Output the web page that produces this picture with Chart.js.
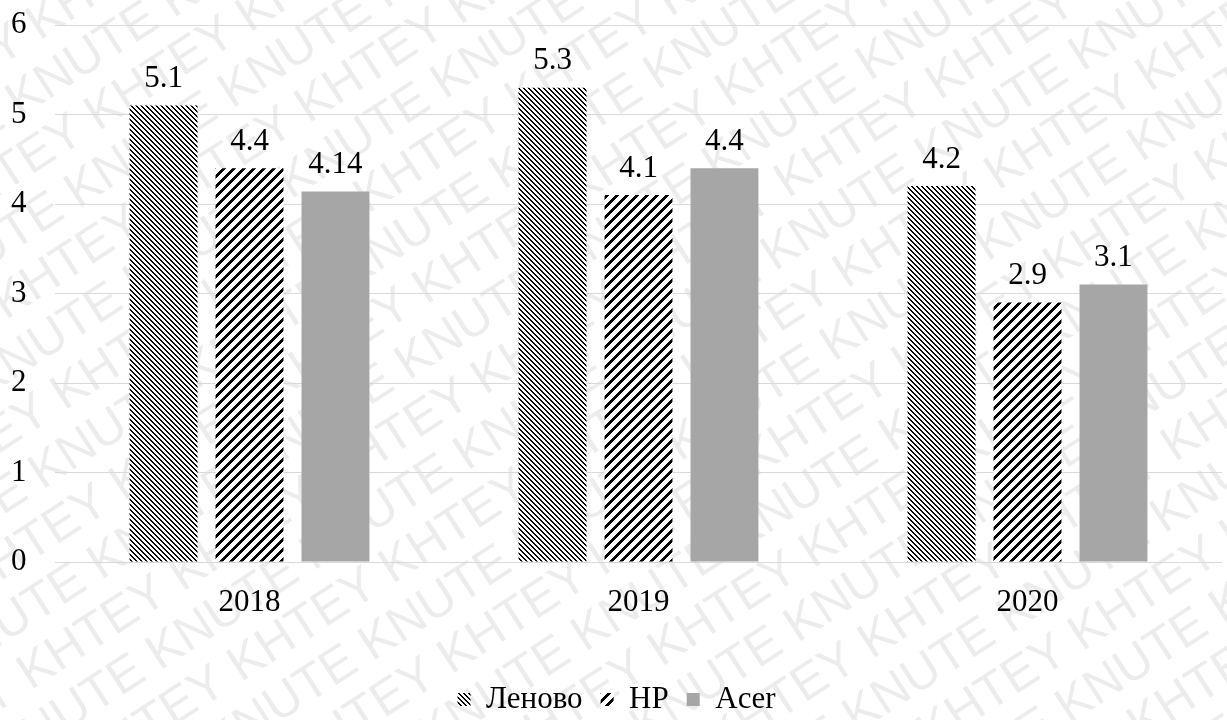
<!DOCTYPE html>
<html>
<head>
<meta charset="utf-8">
<script src="https://cdn.jsdelivr.net/npm/chart.js@4"></script>
<style>
  html, body { margin: 0; padding: 0; background: #fff; }
  #wrap { width: 1227px; height: 720px; }
</style>
</head>
<body>
<div id="wrap"><canvas id="chart" width="1227" height="720"></canvas></div>
<script>
// data
var YEARS = ['2018', '2019', '2020'];
var LENOVO = [5.1, 5.3, 4.2];
var HP = [4.4, 4.1, 2.9];
var ACER = [4.14, 4.4, 3.1];
var SERIES_NAMES = ['Леново', 'HP', 'Acer'];
var Y_MIN = 0, Y_MAX = 6, Y_STEP = 1;

var SERIF = '"Liberation Serif", "Times New Roman", serif';
var FONT_SIZE = 31;

/**
 * Pixel hatch pattern. dir '/' or '\\', period in px, w = black width.
 */
function makeHatch(dir, period, w) {
  var c = document.createElement('canvas');
  c.width = period;
  c.height = period;
  var g = c.getContext('2d');
  var img = g.createImageData(period, period);
  for (var y = 0; y < period; y++) {
    for (var x = 0; x < period; x++) {
      var k = dir === '/' ? (x + y) : (x - y + period * 4);
      var on = (k % period) < w;
      var i = (y * period + x) * 4;
      var v = on ? 0 : 255;
      img.data[i] = v; img.data[i + 1] = v; img.data[i + 2] = v; img.data[i + 3] = 255;
    }
  }
  g.putImageData(img, 0, 0);
  return g.createPattern(c, 'repeat');
}

// faint diagonal watermark behind the plot
var watermark = {
  id: 'watermark',
  beforeDraw: function (chart) {
    var ctx = chart.ctx;
    ctx.save();
    ctx.fillStyle = 'rgba(0,0,0,0.075)';
    ctx.font = '50px "Liberation Sans", Arial, sans-serif';
    ctx.textBaseline = 'middle';
    ctx.translate(chart.width / 2, chart.height / 2);
    ctx.rotate(-33 * Math.PI / 180);
    for (var r = -14; r <= 14; r++) {
      var word = r % 2 === 0 ? 'KNUTE ' : 'KHTEY ';
      var line = '';
      for (var n = 0; n < 14; n++) line += word;
      ctx.fillText(line, -1100 + (r % 2 === 0 ? 0 : 70), r * 54);
    }
    ctx.restore();
  },
};

// value labels above bars
var valueLabels = {
  id: 'valueLabels',
  afterDatasetsDraw: function (chart) {
    var ctx = chart.ctx;
    ctx.save();
    ctx.fillStyle = '#000';
    ctx.font = FONT_SIZE + 'px ' + SERIF;
    ctx.textAlign = 'center';
    ctx.textBaseline = 'bottom';
    chart.data.datasets.forEach(function (ds, di) {
      chart.getDatasetMeta(di).data.forEach(function (bar, i) {
        ctx.fillText(String(ds.data[i]), bar.x, bar.y - 11);
      });
    });
    ctx.restore();
  },
};

Chart.defaults.font.family = SERIF;
Chart.defaults.color = '#000';

new Chart(document.getElementById('chart'), {
  type: 'bar',
  data: {
    labels: YEARS,
    datasets: [
      { label: SERIES_NAMES[0], data: LENOVO, backgroundColor: makeHatch('\\', 5, 2) },
      { label: SERIES_NAMES[1], data: HP, backgroundColor: makeHatch('/', 10, 4) },
      { label: SERIES_NAMES[2], data: ACER, backgroundColor: '#a6a6a6' },
    ],
  },
  options: {
    responsive: false,
    animation: false,
    categoryPercentage: 0.663,
    barPercentage: 0.79,
    layout: { padding: { top: 25, right: 5, bottom: -5, left: 11 } },
    plugins: {
      legend: {
        position: 'bottom',
        labels: {
          font: { size: FONT_SIZE, family: SERIF },
          color: '#000',
          boxWidth: 13,
          boxHeight: 13,
          padding: 18,
        },
      },
      tooltip: { enabled: false },
    },
    scales: {
      x: {
        grid: { display: false },
        border: { display: false },
        ticks: { font: { size: FONT_SIZE }, color: '#000', padding: 14 },
        afterFit: function (scale) { scale.height = 104; },
      },
      y: {
        min: Y_MIN,
        max: Y_MAX,
        grid: { color: '#d9d9d9', lineWidth: 1, drawTicks: false },
        border: { display: false },
        ticks: { stepSize: Y_STEP, font: { size: FONT_SIZE }, color: '#000', padding: 0, crossAlign: 'far' },
        afterFit: function (scale) { scale.width = 44; },
      },
    },
  },
  plugins: [watermark, valueLabels],
});
</script>
</body>
</html>
